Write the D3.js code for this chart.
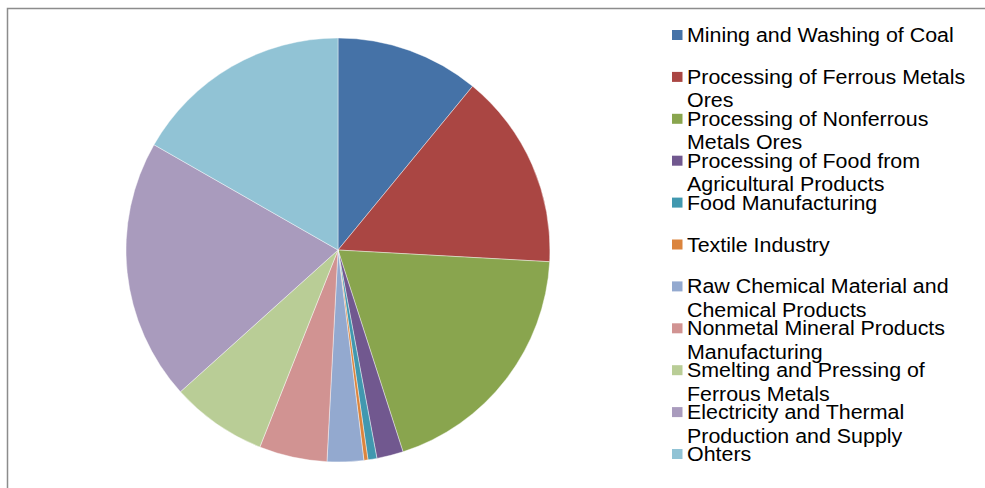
<!DOCTYPE html>
<html>
<head>
<meta charset="utf-8">
<script src="https://cdn.jsdelivr.net/npm/d3@7"></script>
<style>
  body { margin: 0; background: #fff; }
  svg { display: block; }
</style>
</head>
<body>
<script>
const categories = [
  'Mining and Washing of Coal',
  'Processing of Ferrous Metals Ores',
  'Processing of Nonferrous Metals Ores',
  'Processing of Food from Agricultural Products',
  'Food Manufacturing',
  'Textile Industry',
  'Raw Chemical Material and Chemical Products',
  'Nonmetal Mineral Products Manufacturing',
  'Smelting and Pressing of Ferrous Metals',
  'Electricity and Thermal Production and Supply',
  'Ohters'
];
const shares = [10.95, 14.93, 19.16, 2.02, 0.68, 0.31, 2.78, 5.18, 7.33, 19.93, 16.73];
const colors = ['#4572A7', '#AA4643', '#89A54E', '#71588F', '#4198AF', '#DB843D',
  '#93A9CF', '#D19392', '#B9CD96', '#A99BBD', '#91C3D5'];

const w = 985;
const h = 488;
const cx = 338, cy = 250, r = 212;

const svg = d3.select('body').append('svg')
  .attr('width', w)
  .attr('height', h);

// chart frame (right and bottom edges fall outside the view)
svg.append('rect')
  .attr('x', 7.5).attr('y', 8.5)
  .attr('width', 1000).attr('height', 500)
  .attr('fill', 'none')
  .attr('stroke', '#8c8c8c')
  .attr('stroke-width', 1.5);

const data = categories.map((c, i) => ({ name: c, value: shares[i], color: colors[i] }));

const pie = d3.pie().sort(null).value(d => d.value);
const arc = d3.arc().innerRadius(0).outerRadius(r);

svg.append('g')
  .attr('transform', `translate(${cx},${cy})`)
  .selectAll('path')
  .data(pie(data))
  .enter()
  .append('path')
  .attr('d', arc)
  .attr('fill', d => d.data.color)
  .attr('stroke', '#ffffff')
  .attr('stroke-width', 0.6)
  .attr('stroke-opacity', 0.7);

// legend
const legX = 672, legY0 = 42, legStep = 41.9, lineH = 23.5, wrapW = 290, sx = 1.07;
const legend = svg.append('g')
  .style('font-family', 'Arial, "Liberation Sans", sans-serif')
  .style('font-size', '20px')
  .attr('fill', '#000');

data.forEach((d, i) => {
  const y = legY0 + i * legStep;
  legend.append('rect')
    .attr('x', legX).attr('y', y - 12)
    .attr('width', 10.5).attr('height', 10)
    .attr('fill', d.color);
  const t = legend.append('text')
    .attr('transform', `translate(${legX + 15},${y}) scale(${sx},1)`);
  // wrap to the legend width
  const words = d.name.split(' ');
  let line = [];
  let ts = t.append('tspan').attr('x', 0).attr('y', 0);
  let row = 0;
  words.forEach(word => {
    line.push(word);
    ts.text(line.join(' '));
    if (ts.node().getComputedTextLength() * sx > wrapW && line.length > 1) {
      line.pop();
      ts.text(line.join(' '));
      line = [word];
      row++;
      ts = t.append('tspan').attr('x', 0).attr('y', row * lineH).text(word);
    }
  });
});
</script>
</body>
</html>
